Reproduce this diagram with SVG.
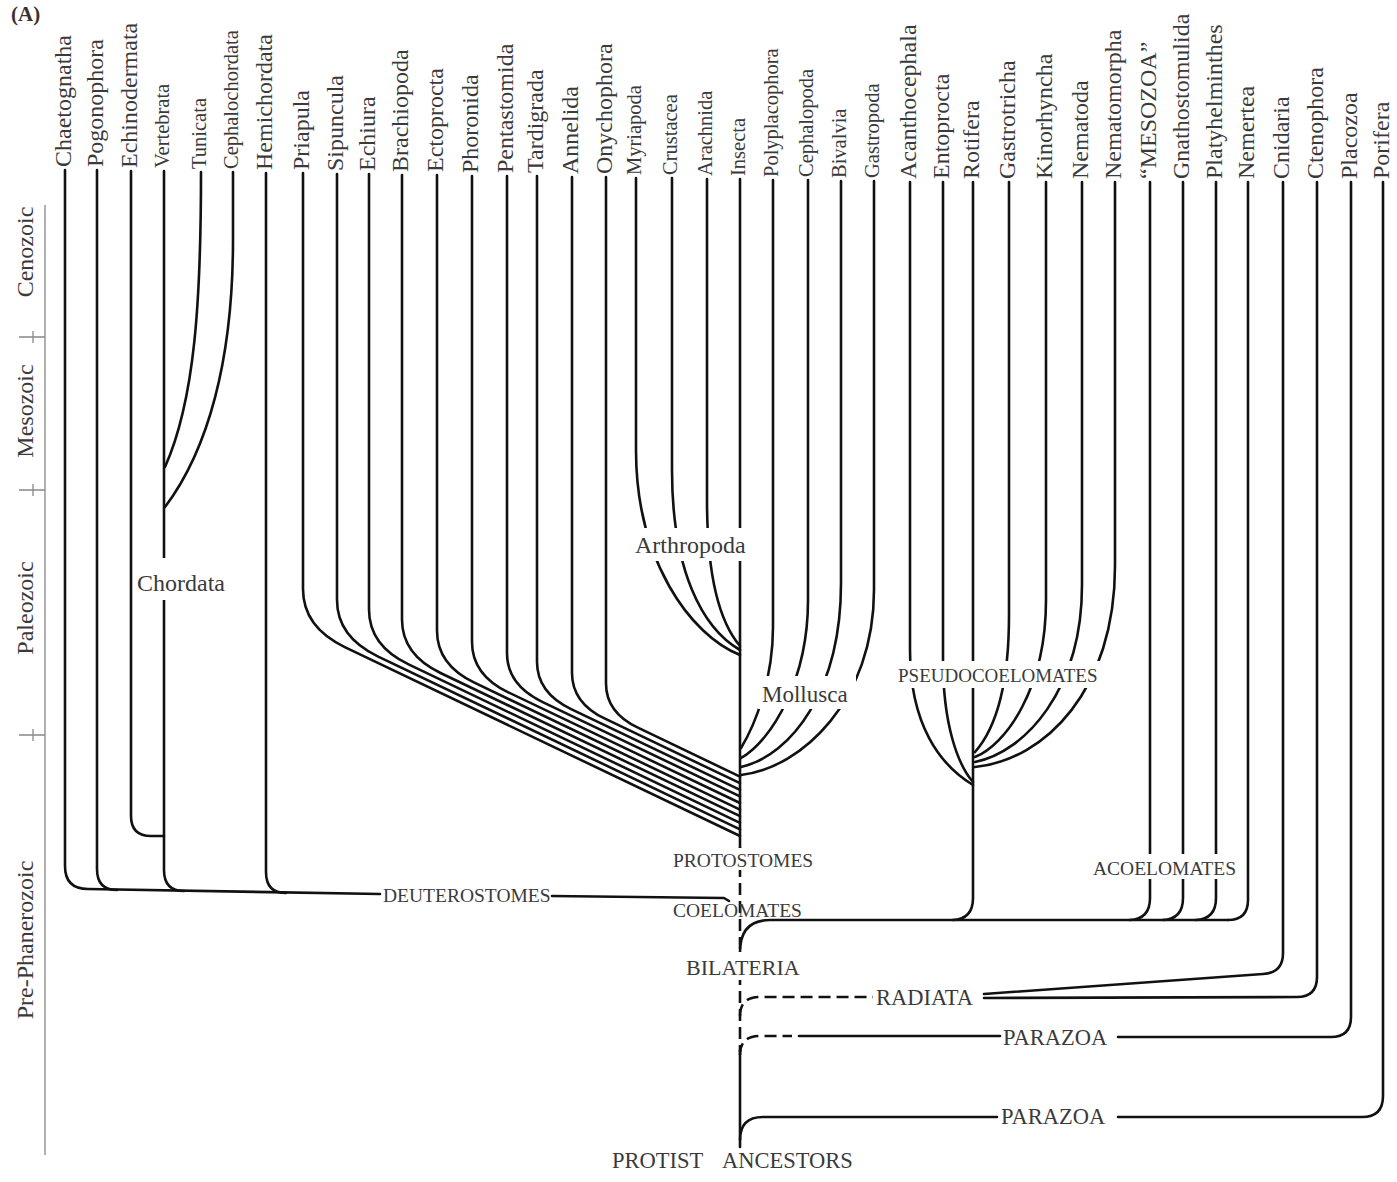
<svg xmlns="http://www.w3.org/2000/svg" width="1397" height="1182" viewBox="0 0 1397 1182">
<style>
.ln{fill:none;stroke:#111;stroke-width:2.6;stroke-linecap:round;stroke-linejoin:round}
.ds{stroke-dasharray:12 6;stroke-linecap:butt}
.ax{fill:none;stroke:#888;stroke-width:1.3}
.tx{font-family:"Liberation Serif","Times New Roman",serif;fill:#3a3a3a}
.big{font-size:24px}
.sm{font-size:20.5px}
.cap{font-size:19.5px}
.cap2{font-size:22.5px}
.bg{fill:#fff}
</style>
<rect width="1397" height="1182" fill="#fff"/>
<text class="tx" x="11" y="21" style="font-size:21px;font-weight:bold;fill:#3a3030">(A)</text>

<g id="time-axis">
<path class="ax" d="M45,205 L45,1155 M19,337 L45,337 M19,490 L45,490 M19,735 L45,735 M33,331 L33,343 M33,484 L33,496 M33,729 L33,741"/>
<text class="tx big" text-anchor="middle" transform="translate(33,252) rotate(-90)">Cenozoic</text>
<text class="tx big" text-anchor="middle" transform="translate(33,411) rotate(-90)">Mesozoic</text>
<text class="tx big" text-anchor="middle" transform="translate(33,608) rotate(-90)">Paleozoic</text>
<text class="tx big" text-anchor="middle" transform="translate(33,940) rotate(-90)">Pre-Phanerozoic</text>
</g>

<g id="connectors">
<!-- deuterostomes -->
<path class="ln" d="M65,170 L65,866 Q65,889 88,889 L380,894"/>
<path class="ln" d="M552,896 L724,898 L729,901"/>
<path class="ln" d="M97,170 L97,869 Q97,890 117,890"/>
<path class="ln" d="M131,171 L131,816 Q131,836 151,836 L164,836"/>
<path class="ln" d="M164,171 L164,870 Q164,891 184,891"/>
<path class="ln" d="M201,172 C201,300 195,400 165,467"/>
<path class="ln" d="M233,172 L233,240 C233,360 208,450 165,507"/>
<path class="ln" d="M266,173 L266,872 Q266,893 286,893"/>
<!-- protostome bundle -->
<path class="ln" d="M303,173 L303,589.1 Q303,627.1 344.8,647.1 L740,836"/>
<path class="ln" d="M337,174 L337,599.8 Q337,636.8 377.7,656.3 L740,829.4"/>
<path class="ln" d="M369,174 L369,609.5 Q369,645.5 408.6,664.4 L740,822.8"/>
<path class="ln" d="M402,175 L402,619.6 Q402,654.6 440.5,673 L740,816.2"/>
<path class="ln" d="M437,175 L437,630.8 Q437,664.8 474.4,682.7 L740,809.6"/>
<path class="ln" d="M472,176 L472,641.9 Q472,674.9 508.3,692.3 L740,803"/>
<path class="ln" d="M507,176 L507,653 Q507,685 542.2,701.8 L740,796.4"/>
<path class="ln" d="M537,176 L537,661.8 Q537,692.8 571.1,709.1 L740,789.8"/>
<path class="ln" d="M572,177 L572,672.9 Q572,702.9 605,718.7 L740,783.2"/>
<path class="ln" d="M606,177 L606,683.5 Q606,712.5 637.9,727.7 L740,776.6"/>
<!-- arthropoda -->
<path class="ln" d="M636,178 L636,450 C636,560 690,635 740,655"/>
<path class="ln" d="M672,178 L672,470 C672,570 702,628 740,650"/>
<path class="ln" d="M707,179 L707,500 C707,585 722,625 740,646"/>
<path class="ln" d="M740,179 L740,847"/>
<!-- mollusca -->
<path class="ln" d="M773,180 L773,627 C773,680 755,725 741,748"/>
<path class="ln" d="M808,180 L808,600 C808,680 772,740 741,758"/>
<path class="ln" d="M841,181 L841,583 C841,690 792,755 741,767"/>
<path class="ln" d="M874,181 L874,590 C874,700 802,768 741,775"/>
<!-- pseudocoelomates -->
<path class="ln" d="M910,182 L910,650 C910,725 940,765 973,785"/>
<path class="ln" d="M943,182 L943,660 C943,725 958,765 973,782"/>
<path class="ln" d="M973,182 L973,898 Q973,919 953,920"/>
<path class="ln" d="M1009,182 L1009,615 C1009,700 990,735 975,752"/>
<path class="ln" d="M1046,182 L1046,600 C1046,690 1005,745 975,757"/>
<path class="ln" d="M1082,182 L1082,585 C1082,690 1025,752 975,762"/>
<path class="ln" d="M1115,182 L1115,566 C1115,690 1045,760 975,767"/>
<!-- acoelomates -->
<path class="ln" d="M1150,182 L1150,898 Q1150,919 1130,920"/>
<path class="ln" d="M1183,182 L1183,898 Q1183,919 1163,920"/>
<path class="ln" d="M1216,182 L1216,898 Q1216,919 1196,920"/>
<path class="ln" d="M1248,182 L1248,900 Q1248,920 1228,920"/>
<path class="ln" d="M740,952 Q740,920 770,920 L1228,920"/>
<!-- central axis -->
<path class="ln ds" d="M740,847 L740,1052"/>
<path class="ln" d="M740,1050 L740,1147"/>
<!-- radiata -->
<path class="ln ds" d="M740,1016 Q740,997 760,997 L873,997"/>
<path class="ln" d="M1283,182 L1283,953 Q1283,973 1263,974 L984,994"/>
<path class="ln" d="M1317,182 L1317,977 Q1317,997 1297,997 L984,998"/>
<!-- parazoa upper -->
<path class="ln ds" d="M740,1055 Q740,1036 760,1036 L792,1036"/>
<path class="ln" d="M799,1036 L1000,1036"/>
<path class="ln" d="M1118,1037 L1331,1037 Q1351,1037 1351,1017 L1351,182"/>
<!-- parazoa lower -->
<path class="ln" d="M740,1140 Q740,1117 763,1117 L997,1117"/>
<path class="ln" d="M1118,1117 L1362,1117 Q1383,1117 1383,1096 L1383,182"/>
</g>

<g id="taxa">
<g id="n-chaetognatha"><text class="tx big" transform="translate(71,167) rotate(-90)">Chaetognatha</text></g>
<g id="n-pogonophora"><text class="tx big" transform="translate(103,167) rotate(-90)">Pogonophora</text></g>
<g id="n-echinodermata"><text class="tx big" transform="translate(137,168) rotate(-90)">Echinodermata</text></g>
<g id="n-vertebrata"><text class="tx sm" transform="translate(169,168) rotate(-90)">Vertebrata</text></g>
<g id="n-tunicata"><text class="tx sm" transform="translate(206,169) rotate(-90)">Tunicata</text></g>
<g id="n-cephalochordata"><text class="tx sm" transform="translate(238,169) rotate(-90)">Cephalochordata</text></g>
<g id="n-hemichordata"><text class="tx big" transform="translate(272,170) rotate(-90)">Hemichordata</text></g>
<g id="n-priapula"><text class="tx big" transform="translate(309,170) rotate(-90)">Priapula</text></g>
<g id="n-sipuncula"><text class="tx big" transform="translate(343,171) rotate(-90)">Sipuncula</text></g>
<g id="n-echiura"><text class="tx big" transform="translate(375,171) rotate(-90)">Echiura</text></g>
<g id="n-brachiopoda"><text class="tx big" transform="translate(408,172) rotate(-90)">Brachiopoda</text></g>
<g id="n-ectoprocta"><text class="tx big" transform="translate(443,172) rotate(-90)">Ectoprocta</text></g>
<g id="n-phoronida"><text class="tx big" transform="translate(478,173) rotate(-90)">Phoronida</text></g>
<g id="n-pentastomida"><text class="tx big" transform="translate(513,173) rotate(-90)">Pentastomida</text></g>
<g id="n-tardigrada"><text class="tx big" transform="translate(543,173) rotate(-90)">Tardigrada</text></g>
<g id="n-annelida"><text class="tx big" transform="translate(578,174) rotate(-90)">Annelida</text></g>
<g id="n-onychophora"><text class="tx big" transform="translate(612,174) rotate(-90)">Onychophora</text></g>
<g id="n-myriapoda"><text class="tx sm" transform="translate(641,175) rotate(-90)">Myriapoda</text></g>
<g id="n-crustacea"><text class="tx sm" transform="translate(677,175) rotate(-90)">Crustacea</text></g>
<g id="n-arachnida"><text class="tx sm" transform="translate(712,176) rotate(-90)">Arachnida</text></g>
<g id="n-insecta"><text class="tx sm" transform="translate(745,176) rotate(-90)">Insecta</text></g>
<g id="n-polyplacophora"><text class="tx sm" transform="translate(778,177) rotate(-90)">Polyplacophora</text></g>
<g id="n-cephalopoda"><text class="tx sm" transform="translate(813,177) rotate(-90)">Cephalopoda</text></g>
<g id="n-bivalvia"><text class="tx sm" transform="translate(846,178) rotate(-90)">Bivalvia</text></g>
<g id="n-gastropoda"><text class="tx sm" transform="translate(879,178) rotate(-90)">Gastropoda</text></g>
<g id="n-acanthocephala"><text class="tx big" transform="translate(916,179) rotate(-90)">Acanthocephala</text></g>
<g id="n-entoprocta"><text class="tx big" transform="translate(949,179) rotate(-90)">Entoprocta</text></g>
<g id="n-rotifera"><text class="tx big" transform="translate(979,179) rotate(-90)">Rotifera</text></g>
<g id="n-gastrotricha"><text class="tx big" transform="translate(1015,179) rotate(-90)">Gastrotricha</text></g>
<g id="n-kinorhyncha"><text class="tx big" transform="translate(1052,179) rotate(-90)">Kinorhyncha</text></g>
<g id="n-nematoda"><text class="tx big" transform="translate(1088,179) rotate(-90)">Nematoda</text></g>
<g id="n-nematomorpha"><text class="tx big" transform="translate(1121,179) rotate(-90)">Nematomorpha</text></g>
<g id="n-mesozoa"><text class="tx big" transform="translate(1156,179) rotate(-90)">“MESOZOA”</text></g>
<g id="n-gnathostomulida"><text class="tx big" transform="translate(1189,179) rotate(-90)">Gnathostomulida</text></g>
<g id="n-platyhelminthes"><text class="tx big" transform="translate(1222,179) rotate(-90)">Platyhelminthes</text></g>
<g id="n-nemertea"><text class="tx big" transform="translate(1254,179) rotate(-90)">Nemertea</text></g>
<g id="n-cnidaria"><text class="tx big" transform="translate(1289,179) rotate(-90)">Cnidaria</text></g>
<g id="n-ctenophora"><text class="tx big" transform="translate(1323,179) rotate(-90)">Ctenophora</text></g>
<g id="n-placozoa"><text class="tx big" transform="translate(1357,179) rotate(-90)">Placozoa</text></g>
<g id="n-porifera"><text class="tx big" transform="translate(1389,179) rotate(-90)">Porifera</text></g>
</g>

<g id="clades">
<g id="c-chordata"><rect class="bg" x="134" y="558" width="97" height="42"/><text class="tx big" x="137" y="591">Chordata</text></g>
<g id="c-arthropoda"><rect class="bg" x="632" y="528" width="118" height="33"/><text class="tx big" x="635" y="553">Arthropoda</text></g>
<g id="c-mollusca"><rect class="bg" x="758" y="676" width="98" height="33"/><text class="tx" style="font-size:23px" x="762" y="702">Mollusca</text></g>
<g id="c-pseudocoelomates"><rect class="bg" x="895" y="661" width="213" height="27"/><text class="tx" style="font-size:19px" x="898" y="682">PSEUDOCOELOMATES</text></g>
<g id="c-acoelomates"><rect class="bg" x="1090" y="854" width="150" height="25"/><text class="tx cap" x="1093" y="875">ACOELOMATES</text></g>
<g id="c-deuterostomes"><text class="tx cap" x="383" y="902">DEUTEROSTOMES</text></g>
<g id="c-protostomes"><rect class="bg" x="670" y="848" width="146" height="22"/><text class="tx cap" x="673" y="867">PROTOSTOMES</text></g>
<g id="c-coelomates"><text class="tx cap" x="673" y="917">COELOMATES</text></g>
<g id="c-bilateria"><rect class="bg" x="684" y="952" width="120" height="28"/><text class="tx" style="font-size:22px" x="686" y="975">BILATERIA</text></g>
<g id="c-radiata"><text class="tx cap2" x="876" y="1005">RADIATA</text></g>
<g id="c-parazoa1"><text class="tx cap2" x="1003" y="1045">PARAZOA</text></g>
<g id="c-parazoa2"><text class="tx cap2" x="1001" y="1124">PARAZOA</text></g>
<g id="c-protist"><text class="tx cap2"><tspan x="612" y="1168">PROTIST</tspan><tspan x="722" y="1168">ANCESTORS</tspan></text></g>
</g>
</svg>
